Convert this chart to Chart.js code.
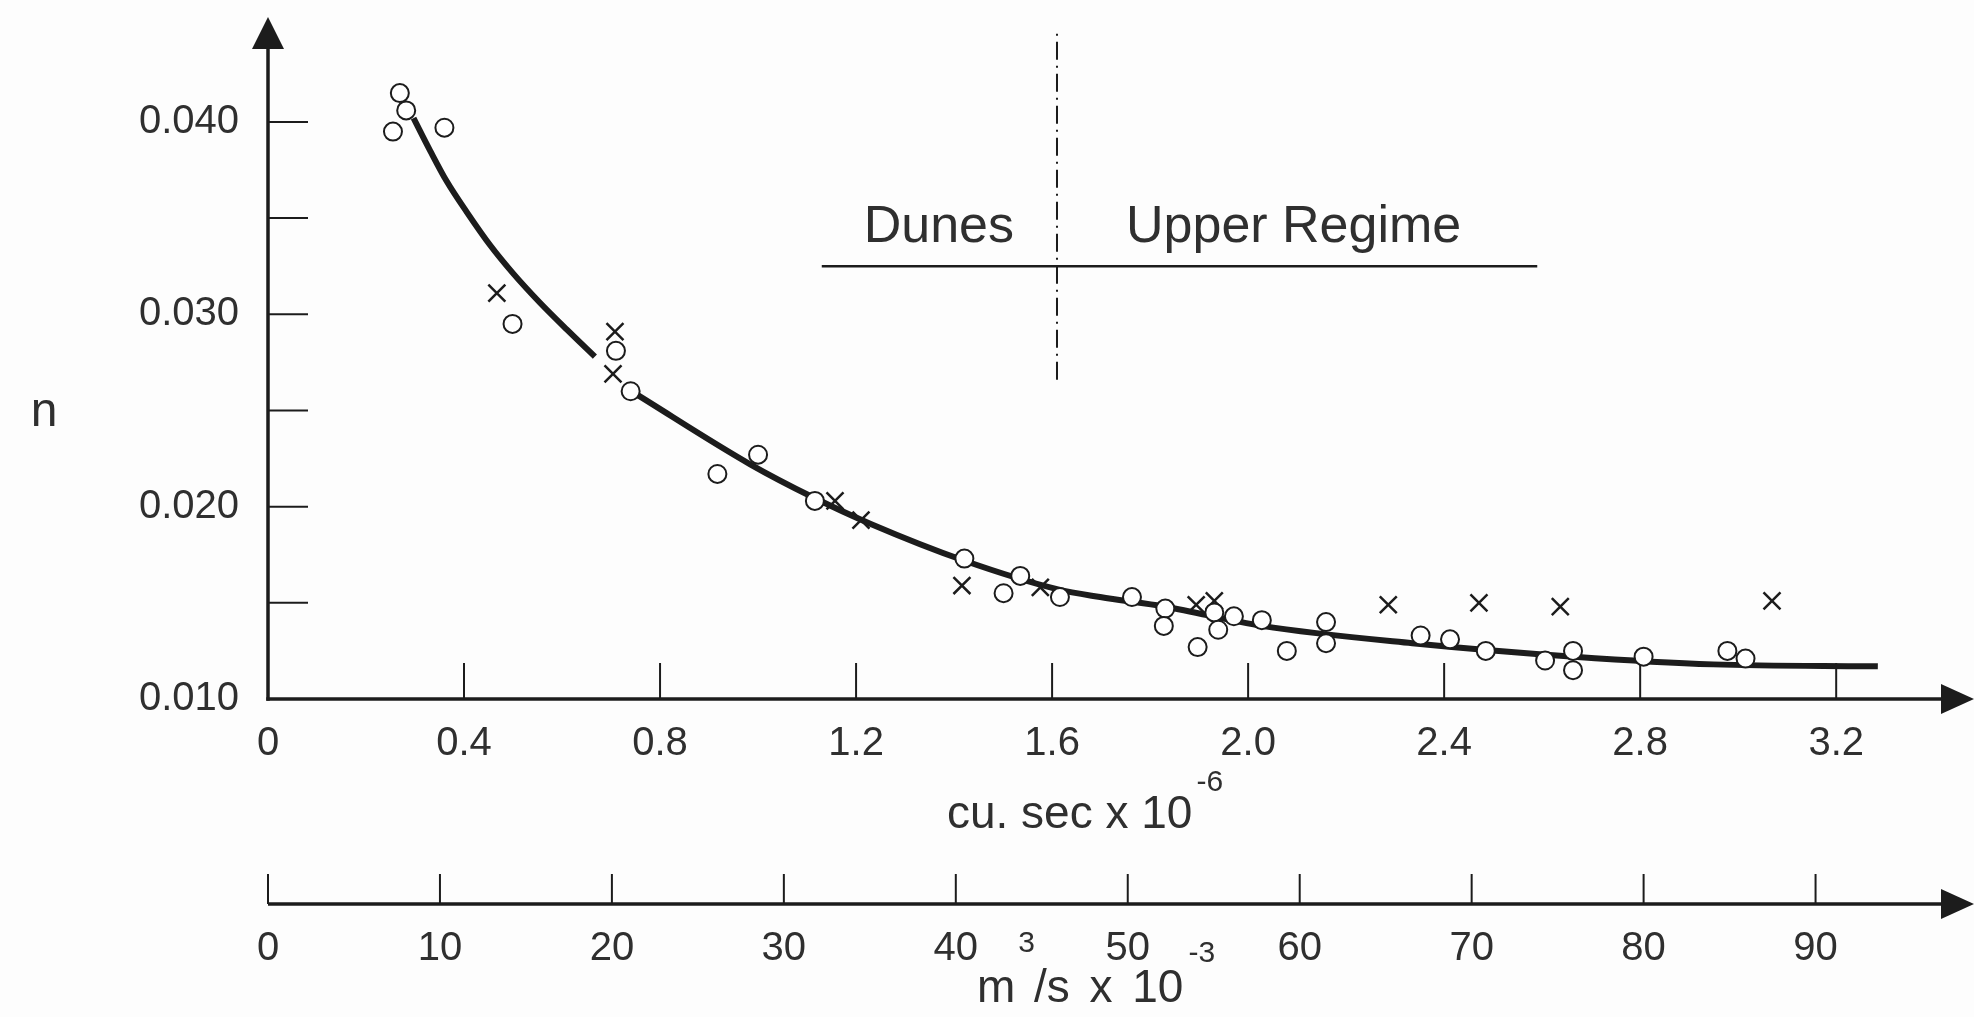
<!DOCTYPE html>
<html>
<head>
<title>Manning n vs discharge</title>
<script src="https://cdn.jsdelivr.net/npm/chart.js"></script>
<style>
  body { margin: 0; background: #fdfdfd; }
  #wrap { width: 1974px; height: 1017px; }
</style>
</head>
<body>
<div id="wrap"><canvas id="nChart"></canvas></div>
<script>
// values (x in cu. sec x 10^-6, y = Manning n)
const circleX = [0.269, 0.282, 0.255, 0.360, 0.499, 0.710, 0.740, 0.917, 1.000, 1.116,
                 1.421, 1.501, 1.535, 1.616, 1.763, 1.831, 1.828, 1.897, 1.931, 1.939,
                 1.971, 2.028, 2.079, 2.159, 2.159, 2.352, 2.412, 2.485, 2.606, 2.663,
                 2.663, 2.807, 2.978, 3.015];
const circleN = [0.0415, 0.0406, 0.0395, 0.0397, 0.0295, 0.0281, 0.0260, 0.0217, 0.0227, 0.0203,
                 0.0173, 0.0155, 0.0164, 0.0153, 0.0153, 0.0147, 0.0138, 0.0127, 0.0145, 0.0136,
                 0.0143, 0.0141, 0.0125, 0.0140, 0.0129, 0.0133, 0.0131, 0.0125, 0.0120, 0.0125,
                 0.0115, 0.0122, 0.0125, 0.0121];

const crossX = [0.467, 0.708, 0.704, 1.157, 1.210, 1.416, 1.576, 1.894, 1.931, 2.286, 2.471, 2.637, 3.069];
const crossN = [0.0311, 0.0291, 0.0269, 0.0203, 0.0193, 0.0159, 0.0158, 0.0149, 0.0151, 0.0149, 0.0150, 0.0148, 0.0151];

// the fitted curve, drawn in two pieces
const curveAX = [0.297, 0.331, 0.365, 0.406, 0.453, 0.501, 0.555, 0.610, 0.667];
const curveAN = [0.0402, 0.0385, 0.0369, 0.0353, 0.0336, 0.0321, 0.0306, 0.0292, 0.0278];
const curveBX = [0.748, 0.984, 1.111, 1.230, 1.420, 1.612, 1.698, 1.831, 2.028, 2.335, 2.665, 2.949, 3.285];
const curveBN = [0.0259, 0.0222, 0.0205, 0.0191, 0.0172, 0.0157, 0.0153, 0.0148, 0.0138, 0.0129, 0.0122, 0.0118, 0.0117];

// regime marker: dash-dot boundary and the horizontal bar under the labels
const regimeBoundary = 1.61;
const regimeBarX = [1.13, 2.59];
const regimeBarN = 0.0325;
const boundaryN = [0.0266, 0.0448];

// axis ticks
const xTicks = [0, 0.4, 0.8, 1.2, 1.6, 2.0, 2.4, 2.8, 3.2];
const yTicks = [0.010, 0.015, 0.020, 0.025, 0.030, 0.035, 0.040];
const yLabelled = ['0.010', '0.020', '0.030', '0.040'];
const m3Ticks = [0, 10, 20, 30, 40, 50, 60, 70, 80, 90];

const X_MAX = 3.42;
const M3_PER_UNIT = 28.5;   // lower axis is the same flow in m3/s x 10^-3
const INK = '#1c1c1c';
const TEXT = '#2f2f2f';
const FONT = "'Liberation Sans', Arial, sans-serif";

Chart.defaults.font.family = FONT;
Chart.defaults.color = TEXT;

function pts(xs, ys) {
  return xs.map((x, i) => ({ x: x, y: Array.isArray(ys) ? ys[i] : ys }));
}

function line(ctx, x1, y1, x2, y2) {
  ctx.beginPath();
  ctx.moveTo(x1, y1);
  ctx.lineTo(x2, y2);
  ctx.stroke();
}

function arrowRight(ctx, tipX, y, len, half) {
  ctx.beginPath();
  ctx.moveTo(tipX, y);
  ctx.lineTo(tipX - len, y - half);
  ctx.lineTo(tipX - len, y + half);
  ctx.closePath();
  ctx.fill();
}

function arrowUp(ctx, x, tipY, len, half) {
  ctx.beginPath();
  ctx.moveTo(x, tipY);
  ctx.lineTo(x - half, tipY + len);
  ctx.lineTo(x + half, tipY + len);
  ctx.closePath();
  ctx.fill();
}

// axes in the hand-drawn style: arrows, inward ticks, titles with superscripts
const handAxes = {
  id: 'handAxes',
  beforeDatasetsDraw(chart) {
    const { ctx, chartArea: a, scales } = chart;
    const xs = scales.x, ys = scales.y, x2 = scales.x2;
    ctx.save();
    ctx.strokeStyle = INK;
    ctx.fillStyle = INK;
    ctx.lineCap = 'butt';

    // main axes
    ctx.lineWidth = 3.5;
    line(ctx, a.left, a.bottom + 1.7, a.left, a.top + 2);
    arrowUp(ctx, a.left, a.top - 28, 32, 16);
    line(ctx, a.left - 1.7, a.bottom, a.right, a.bottom);
    arrowRight(ctx, a.right + 30, a.bottom, 33, 15);

    // second (metric) axis
    const yb = x2.top;
    line(ctx, a.left, yb, a.right, yb);
    arrowRight(ctx, a.right + 30, yb, 33, 15);

    ctx.lineWidth = 2;
    xTicks.forEach(v => {
      if (v === 0) return;
      const px = xs.getPixelForValue(v);
      line(ctx, px, a.bottom, px, a.bottom - 36);
    });
    yTicks.forEach(v => {
      const py = ys.getPixelForValue(v);
      line(ctx, a.left, py, a.left + 40, py);
    });
    m3Ticks.forEach(v => {
      const px = x2.getPixelForValue(v);
      line(ctx, px, yb, px, yb - 30);
    });

    // titles
    ctx.fillStyle = TEXT;
    ctx.textBaseline = 'alphabetic';

    ctx.font = '48px ' + FONT;
    ctx.textAlign = 'center';
    ctx.fillText('n', 44, ys.getPixelForValue(0.025) + 16);
    ctx.textAlign = 'left';

    // cu. sec x 10^-6
    ctx.font = '46px ' + FONT;
    const t1 = 'cu. sec x 10';
    const w1 = ctx.measureText(t1).width;
    ctx.font = '30px ' + FONT;
    const s1 = '-6';
    const ws1 = ctx.measureText(s1).width;
    const cx = (a.left + a.right) / 2 - 21;
    const start1 = cx - (w1 + 4 + ws1) / 2;
    const base1 = a.bottom + 129;
    ctx.font = '46px ' + FONT;
    ctx.fillText(t1, start1, base1);
    ctx.font = '30px ' + FONT;
    ctx.fillText(s1, start1 + w1 + 4, base1 - 37);

    // m^3/s x 10^-3
    const base2 = yb + 98;
    let px = start1 + 30;
    ctx.font = '46px ' + FONT;
    ctx.fillText('m', px, base2);
    px += ctx.measureText('m').width + 3;
    ctx.font = '30px ' + FONT;
    ctx.fillText('3', px, base2 - 50);
    px += ctx.measureText('3').width - 1;
    ctx.font = '46px ' + FONT;
    ctx.wordSpacing = '7px';
    ctx.fillText('/s x 10', px, base2);
    px += ctx.measureText('/s x 10').width + 5;
    ctx.wordSpacing = '0px';
    ctx.font = '30px ' + FONT;
    ctx.fillText('-3', px, base2 - 40);

    // regime labels
    const barY = ys.getPixelForValue(regimeBarN);
    const bx = xs.getPixelForValue(regimeBoundary);
    ctx.font = '52px ' + FONT;
    ctx.textAlign = 'right';
    ctx.fillText('Dunes', bx - 43, barY - 24);
    ctx.textAlign = 'left';
    ctx.fillText('Upper Regime', bx + 69, barY - 24);

    ctx.restore();
  }
};

new Chart(document.getElementById('nChart'), {
  type: 'scatter',
  data: {
    datasets: [
      {
        label: 'circles',
        data: pts(circleX, circleN),
        pointStyle: 'circle',
        pointRadius: 9,
        backgroundColor: '#ffffff',
        borderColor: INK,
        borderWidth: 2,
        order: 0
      },
      {
        label: 'crosses',
        data: pts(crossX, crossN),
        pointStyle: 'crossRot',
        pointRadius: 12,
        borderColor: INK,
        borderWidth: 2.5,
        order: 0
      },
      {
        label: 'curve A',
        data: pts(curveAX, curveAN),
        showLine: true,
        pointRadius: 0,
        borderColor: INK,
        borderWidth: 6,
        cubicInterpolationMode: 'monotone',
        order: 1
      },
      {
        label: 'curve B',
        data: pts(curveBX, curveBN),
        showLine: true,
        pointRadius: 0,
        borderColor: INK,
        borderWidth: 6,
        cubicInterpolationMode: 'monotone',
        order: 1
      },
      {
        label: 'regime bar',
        data: pts(regimeBarX, regimeBarN),
        showLine: true,
        pointRadius: 0,
        borderColor: INK,
        borderWidth: 2.5,
        order: 2
      },
      {
        label: 'regime boundary',
        data: pts([regimeBoundary, regimeBoundary], boundaryN),
        showLine: true,
        pointRadius: 0,
        borderColor: INK,
        borderWidth: 2,
        borderDash: [18, 6, 2, 6],
        clip: false,
        order: 2
      }
    ]
  },
  options: {
    responsive: true,
    maintainAspectRatio: false,
    animation: false,
    events: [],
    layout: { padding: { top: 43, right: 30, left: 0, bottom: 0 } },
    plugins: {
      legend: { display: false },
      tooltip: { enabled: false }
    },
    scales: {
      x: {
        type: 'linear',
        position: 'bottom',
        min: 0,
        max: X_MAX,
        grid: { display: false },
        border: { display: false },
        afterBuildTicks: s => { s.ticks = xTicks.map(v => ({ value: v })); },
        afterFit: s => { s.height = 205; },
        ticks: {
          autoSkip: false,
          maxRotation: 0,
          padding: 13,
          color: TEXT,
          font: { size: 40 },
          callback: v => (v === 0 ? '0' : v.toFixed(1))
        }
      },
      x2: {
        type: 'linear',
        position: 'bottom',
        min: 0,
        max: X_MAX * M3_PER_UNIT,
        grid: { display: false },
        border: { display: false },
        afterBuildTicks: s => { s.ticks = m3Ticks.map(v => ({ value: v })); },
        afterFit: s => { s.height = 113; },
        ticks: {
          autoSkip: false,
          maxRotation: 0,
          padding: 13,
          color: TEXT,
          font: { size: 40 },
          callback: v => String(v)
        }
      },
      y: {
        type: 'linear',
        position: 'left',
        min: 0.010,
        max: 0.044,
        grid: { display: false },
        border: { display: false },
        afterBuildTicks: s => { s.ticks = yTicks.map(v => ({ value: v })); },
        afterFit: s => { s.width = 268; },
        ticks: {
          autoSkip: false,
          padding: 21,
          color: TEXT,
          font: { size: 40 },
          callback: v => {
            const lab = v.toFixed(3);
            return yLabelled.includes(lab) ? lab : '';
          }
        }
      }
    }
  },
  plugins: [handAxes]
});
</script>
</body>
</html>
